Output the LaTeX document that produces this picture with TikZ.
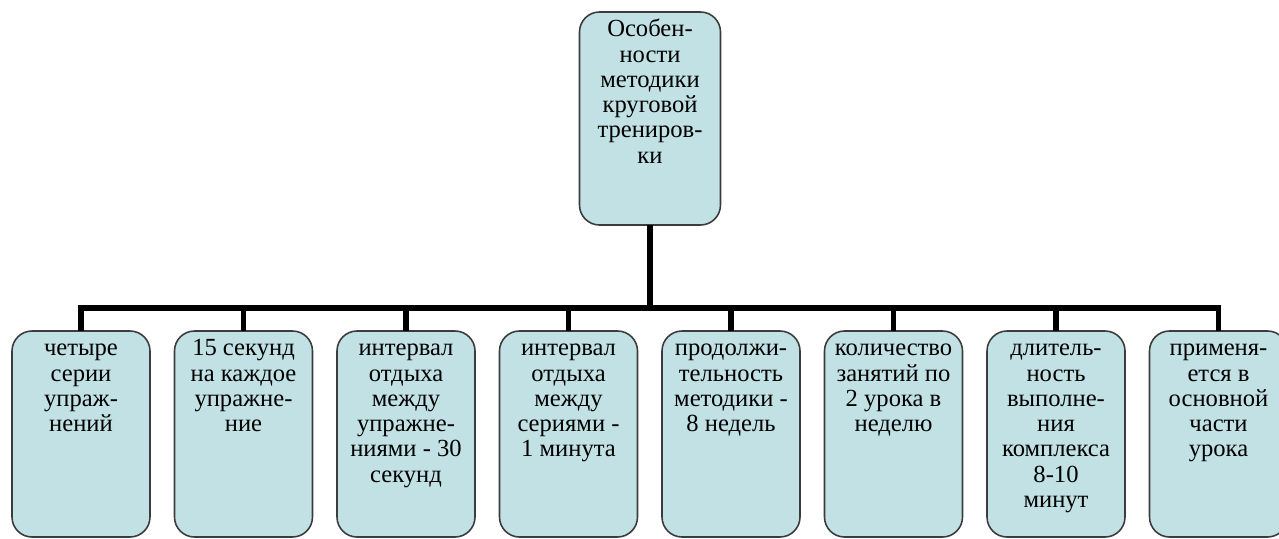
\documentclass[tikz,border=0pt]{standalone}
\usepackage{fontspec}
\setmainfont{Liberation Serif}
\usetikzlibrary{positioning}
\definecolor{boxfill}{RGB}{193,225,229}
\definecolor{boxline}{RGB}{60,60,60}
\newcommand{\leaftext}[3]{\parbox[c][#2][t]{#1}{\centering\strut#3}}

\begin{document}
\begin{tikzpicture}[
box/.style={draw=boxline,fill=boxfill,line width=0.9pt,rounded corners=0.4cm,inner xsep=0.08cm,inner ysep=0.14cm,outer sep=0pt,font=\fontsize{14}{14.4}\selectfont},
link/.style={line width=3pt,line join=miter},node distance=0.49cm]
\useasboundingbox (0,0) rectangle (25.58,-10.76);
\node[box] (head) at (13.0,-2.37) {\leaftext{2.66cm}{3.98cm}{Особен-\\ности\\методики\\круговой\\трениров-\\ки}};
\node[box] (series) at (1.62,-8.68) {\leaftext{2.6cm}{3.84cm}{четыре\\серии\\упраж-\\нений}};
\node[box,right=of series] (work) {\leaftext{2.6cm}{3.84cm}{15 секунд\\на каждое\\упражне-\\ние}};
\node[box,right=of work] (restex) {\leaftext{2.6cm}{3.84cm}{интервал\\отдыха\\между\\упражне-\\ниями - 30\\секунд}};
\node[box,right=of restex] (restser) {\leaftext{2.6cm}{3.84cm}{интервал\\отдыха\\между\\сериями -\\1 минута}};
\node[box,right=of restser] (weeks) {\leaftext{2.6cm}{3.84cm}{продолжи-\\тельность\\методики -\\8 недель}};
\node[box,right=of weeks] (lessons) {\leaftext{2.6cm}{3.84cm}{количество\\занятий по\\2 урока в\\неделю}};
\node[box,right=of lessons] (length) {\leaftext{2.6cm}{3.84cm}{длитель-\\ность\\выполне-\\ния\\комплекса\\8-10\\минут}};
\node[box,right=of length] (usage) {\leaftext{2.6cm}{3.84cm}{применя-\\ется в\\основной\\части\\урока}};
\coordinate (hub) at ([yshift=-1.66cm]head.south);
\draw[link](head)--(hub); \draw[link](hub)-|(series); \draw[link](hub)-|(work); \draw[link](hub)-|(restex); \draw[link](hub)-|(restser);
\draw[link](hub)-|(weeks); \draw[link](hub)-|(lessons); \draw[link](hub)-|(length); \draw[link](hub)-|(usage);
\end{tikzpicture}
\end{document}
